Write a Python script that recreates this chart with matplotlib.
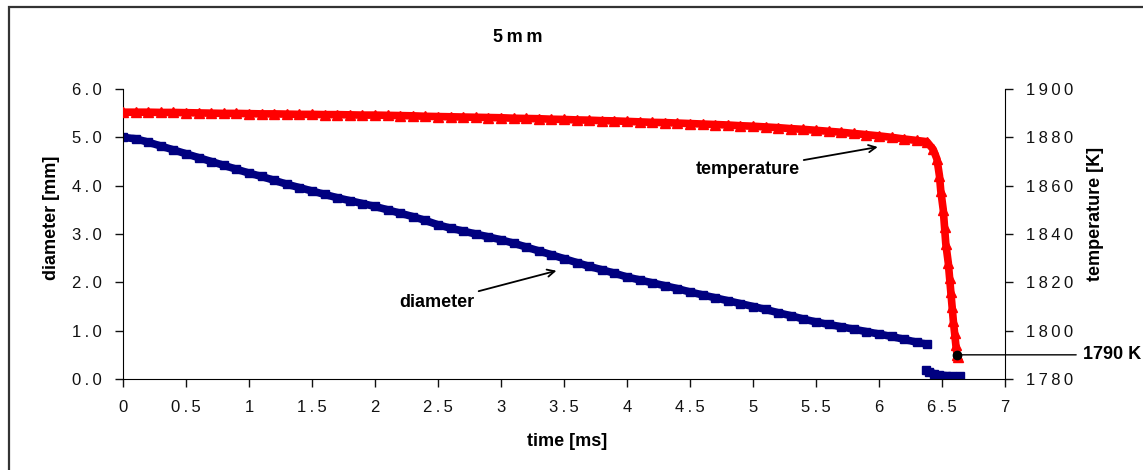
import numpy as np
import matplotlib
matplotlib.use('Agg')
import matplotlib.pyplot as plt
from matplotlib.patches import Rectangle
from matplotlib.ticker import FuncFormatter, MultipleLocator

plt.rcParams['font.family'] = ['Liberation Sans', 'DejaVu Sans']

# diameter [mm] vs time [ms]
time_d1 = [0.0, 0.1, 0.2, 0.3, 0.4, 0.5, 0.6, 0.7, 0.8, 0.9,
           1.0, 1.1, 1.2, 1.3, 1.4, 1.5, 1.6, 1.7, 1.8, 1.9,
           2.0, 2.1, 2.2, 2.3, 2.4, 2.5, 2.6, 2.7, 2.8, 2.9,
           3.0, 3.1, 3.2, 3.3, 3.4, 3.5, 3.6, 3.7, 3.8, 3.9,
           4.0, 4.1, 4.2, 4.3, 4.4, 4.5, 4.6, 4.7, 4.8, 4.9,
           5.0, 5.1, 5.2, 5.3, 5.4, 5.5, 5.6, 5.7, 5.8, 5.9,
           6.0, 6.1, 6.2, 6.3, 6.38]
diam1 = [5.00, 4.97, 4.90, 4.82, 4.74, 4.66, 4.58, 4.50, 4.42, 4.34,
         4.26, 4.19, 4.11, 4.03, 3.96, 3.89, 3.82, 3.75, 3.69, 3.63,
         3.57, 3.50, 3.43, 3.36, 3.28, 3.19, 3.12, 3.06, 3.00, 2.94,
         2.88, 2.81, 2.73, 2.65, 2.57, 2.49, 2.41, 2.33, 2.26, 2.19,
         2.11, 2.05, 1.99, 1.93, 1.87, 1.80, 1.74, 1.68, 1.62, 1.56,
         1.50, 1.44, 1.37, 1.31, 1.24, 1.18, 1.13, 1.08, 1.03, 0.98,
         0.93, 0.88, 0.82, 0.76, 0.72]
time_d2 = [6.37, 6.40, 6.44, 6.48, 6.53, 6.58, 6.64]
diam2 = [0.18, 0.15, 0.11, 0.08, 0.07, 0.06, 0.06]

# temperature [K] vs time [ms]
time_T = [0.0, 0.1, 0.2, 0.3, 0.4, 0.5, 0.6, 0.7, 0.8, 0.9,
          1.0, 1.1, 1.2, 1.3, 1.4, 1.5, 1.6, 1.7, 1.8, 1.9,
          2.0, 2.1, 2.2, 2.3, 2.4, 2.5, 2.6, 2.7, 2.8, 2.9,
          3.0, 3.1, 3.2, 3.3, 3.4, 3.5, 3.6, 3.7, 3.8, 3.9,
          4.0, 4.1, 4.2, 4.3, 4.4, 4.5, 4.6, 4.7, 4.8, 4.9,
          5.0, 5.1, 5.2, 5.3, 5.4, 5.5, 5.6, 5.7, 5.8, 5.9,
          6.0, 6.1, 6.2, 6.3, 6.38, 6.43, 6.46, 6.48, 6.49, 6.51,
          6.52, 6.53, 6.55, 6.56, 6.57, 6.58, 6.59, 6.60, 6.61, 6.62, 6.63]
temp = [1890.4, 1890.4, 1890.4, 1890.3, 1890.3, 1890.2, 1890.1, 1890.0, 1889.9, 1889.9,
        1889.8, 1889.7, 1889.7, 1889.6, 1889.5, 1889.5, 1889.4, 1889.4, 1889.3, 1889.2,
        1889.2, 1889.1, 1889.0, 1888.9, 1888.7, 1888.6, 1888.5, 1888.4, 1888.3, 1888.2,
        1888.1, 1887.9, 1887.8, 1887.7, 1887.5, 1887.4, 1887.2, 1887.1, 1886.9, 1886.8,
        1886.6, 1886.4, 1886.2, 1886.1, 1885.9, 1885.7, 1885.5, 1885.3, 1885.1, 1884.8,
        1884.6, 1884.3, 1884.0, 1883.6, 1883.3, 1882.9, 1882.5, 1882.1, 1881.6, 1881.1,
        1880.6, 1880.0, 1879.3, 1878.7, 1878.2, 1875.0, 1871.0, 1864.0, 1858.0, 1850.0,
        1843.0, 1836.0, 1828.0, 1822.0, 1816.0, 1810.0, 1804.0, 1799.0, 1794.0, 1790.0, 1789.0]

end_time = 6.62
end_temp = 1790

W, H = 1143, 470
fig = plt.figure(figsize=(W / 100, H / 100), dpi=100)
ax = fig.add_axes([123 / W, 1 - 379 / H, 882 / W, 290 / H])
ax2 = ax.twinx()

def spaced(fmt):
    # excel-ish letter spacing on the tick labels
    return FuncFormatter(lambda v, p: '\u2009'.join(fmt(v)))

navy = '#000080'
red = '#ff0000'

ax.plot(time_d1, diam1, color=navy, lw=5.5, marker='s', ms=6, solid_capstyle='butt')
ax.plot(time_d2, diam2, color=navy, lw=5.5, marker='s', ms=6, solid_capstyle='butt')
ax2.plot(time_T, temp, color=red, lw=5.5, marker='^', ms=7.5, solid_capstyle='butt')
ax2.plot([end_time], [end_temp], 'o', color='black', ms=6, zorder=5)

ax.set_xlim(0, 7)
ax.set_ylim(0, 6)
ax2.set_ylim(1780, 1900)

ax.xaxis.set_major_locator(MultipleLocator(0.5))
ax.yaxis.set_major_locator(MultipleLocator(1.0))
ax2.yaxis.set_major_locator(MultipleLocator(20))
ax.xaxis.set_major_formatter(spaced(lambda v: '%g' % v))
ax.yaxis.set_major_formatter(spaced(lambda v: '%.1f' % v))
ax2.yaxis.set_major_formatter(spaced(lambda v: '%d' % v))

for a in (ax, ax2):
    a.spines['top'].set_visible(False)
    a.tick_params(direction='out', length=6, width=1, labelsize=12, colors='#111', pad=9)
ax.spines['right'].set_visible(False)
ax2.spines['left'].set_visible(False)
ax2.spines['bottom'].set_visible(False)

# labels
fig.text(567 / W, 1 - 442 / H, 'time [ms]', ha='center', va='center', fontsize=13, fontweight='bold')
fig.text(51 / W, 1 - 218 / H, 'diameter [mm]', ha='center', va='center', rotation=90,
         fontsize=13, fontweight='bold')
fig.text(1096 / W, 1 - 214 / H, 'temperature [K]', ha='center', va='center', rotation=90,
         fontsize=13, fontweight='bold')
fig.text(518 / W, 1 - 38 / H, '5\u2009m\u2009m', ha='center', va='center', fontsize=13, fontweight='bold')

# annotations
ax.annotate('diameter', xy=(3.44, 2.24), xytext=(2.79, 1.59), fontsize=13, fontweight='bold',
            ha='right', va='center',
            arrowprops=dict(arrowstyle='->', color='black', lw=1.3, shrinkA=1, shrinkB=0))
ax2.annotate('temperature', xy=(5.99, 1876.0), xytext=(5.37, 1866.5), fontsize=13, fontweight='bold',
             ha='right', va='center',
             arrowprops=dict(arrowstyle='->', color='black', lw=1.3, shrinkA=1, shrinkB=0))
ax2.annotate('1790 K', xy=(end_time, end_temp), xytext=(7.62, end_temp), fontsize=13,
             fontweight='bold', ha='left', va='center', annotation_clip=False,
             arrowprops=dict(arrowstyle='-', color='black', lw=1, shrinkA=3, shrinkB=0))

fig.patches.append(Rectangle((9 / W, -0.1), 1.2, 1.1 - 7 / H, transform=fig.transFigure,
                             fill=False, edgecolor='#333333', lw=1.6))

fig.savefig('out.png', dpi=100)
